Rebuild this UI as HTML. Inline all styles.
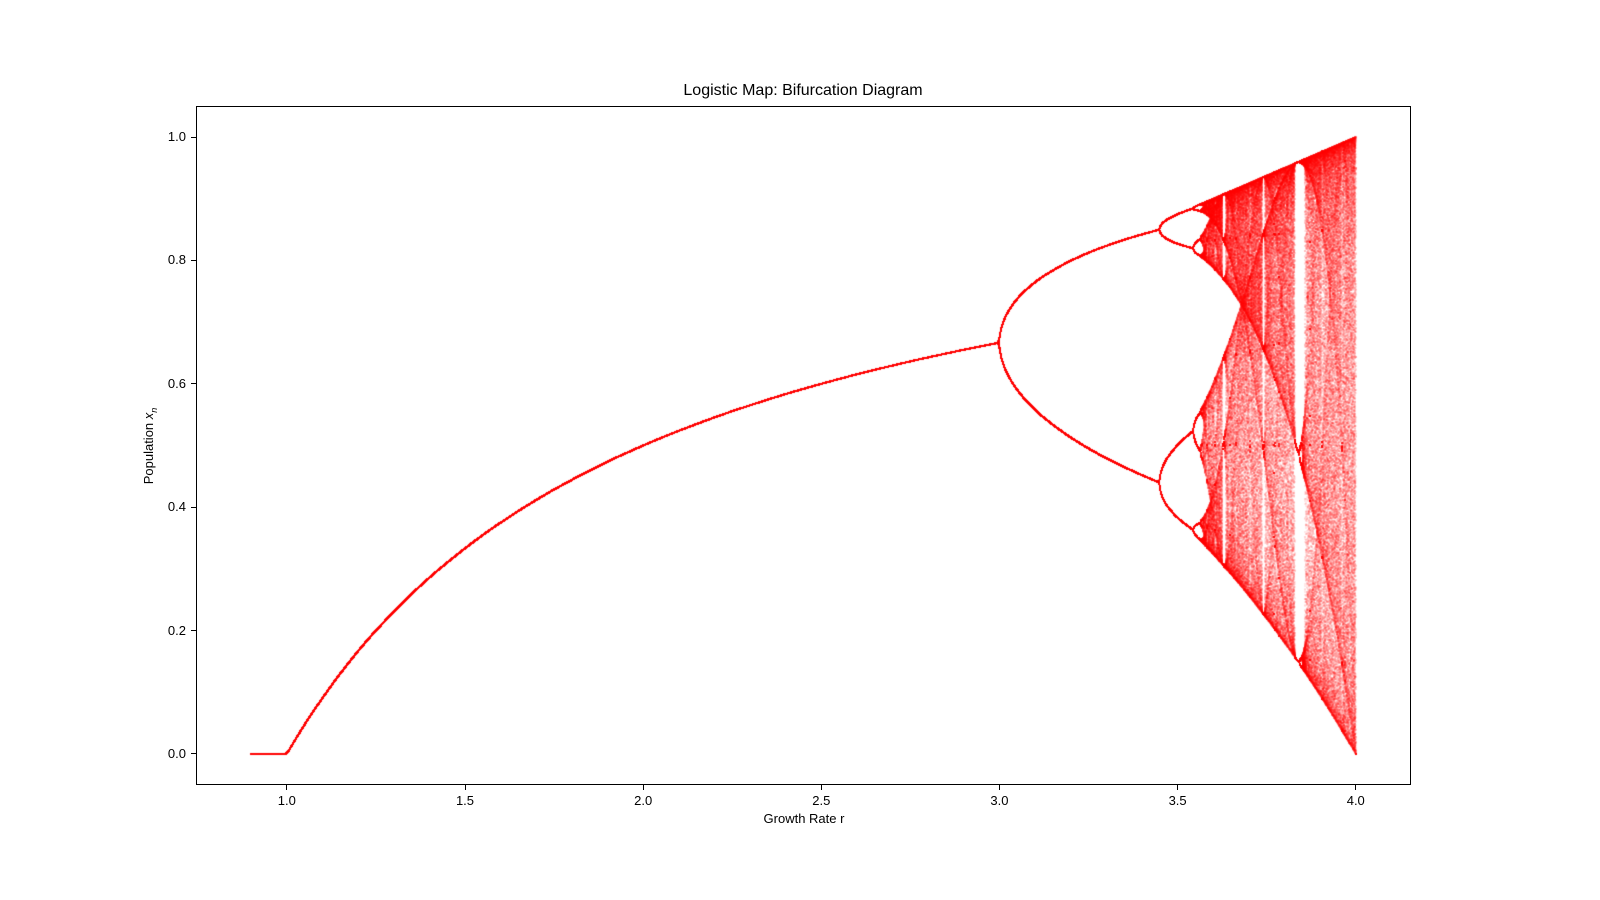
<!DOCTYPE html>
<html><head><meta charset="utf-8">
<style>
body{margin:0;background:#fff;width:1600px;height:900px;overflow:hidden;font-family:"Liberation Sans","DejaVu Sans",sans-serif;}
#wrap{position:relative;width:1600px;height:900px;}
#plot{position:absolute;left:196px;top:106px;width:1215px;height:679px;border:1px solid #000;box-sizing:border-box;}
canvas{position:absolute;left:0;top:0;}
.t{position:absolute;font-size:13px;color:#000;white-space:nowrap;}
.tick{position:absolute;background:#000;}
</style></head><body>
<div id="wrap">
<div class="t" style="left:0;width:1606px;text-align:center;top:82px;font-size:16px;">Logistic Map: Bifurcation Diagram</div>
<div id="plot"></div>
<canvas id="cv" width="1600" height="900"></canvas>
<div class="t" style="left:0;width:1608px;text-align:center;top:811px;">Growth Rate r</div>
<div class="t" style="left:150px;top:446px;transform:translate(-50%,-50%) rotate(-90deg);">Population <i>x</i><sub style="font-size:9px;font-style:italic">n</sub></div>
</div>
<script>
const rRange=[0.9,4.0];
const iterSettings=[600,300];
const x0Values=[0.5];
const xTicks=[1.0,1.5,2.0,2.5,3.0,3.5,4.0];
const yTicks=[0.0,0.2,0.4,0.6,0.8,1.0];
const xDomain=[0.745,4.155];
const yDomain=[-0.0503,1.0503];
const plotBox={l:196,t:106,w:1215,h:679};
function sx(v){return plotBox.l+(v-xDomain[0])/(xDomain[1]-xDomain[0])*plotBox.w;}
function sy(v){return plotBox.t+plotBox.h-(v-yDomain[0])/(yDomain[1]-yDomain[0])*plotBox.h;}
const wrap=document.getElementById('wrap');
xTicks.forEach(v=>{
  const d=document.createElement('div');d.className='tick';
  
  
  d.style.cssText=`left:${sx(v)-0.5}px;top:785px;width:1px;height:5px`;wrap.appendChild(d);
  const l=document.createElement('div');l.className='t';
  
  
  l.textContent=v.toFixed(1);l.style.cssText=`left:${sx(v)-20}px;width:40px;text-align:center;top:793px`;wrap.appendChild(l);
});
yTicks.forEach(v=>{
  const d=document.createElement('div');d.className='tick';
  
  
  d.style.cssText=`left:191px;top:${sy(v)-0.5}px;width:5px;height:1px`;wrap.appendChild(d);
  const l=document.createElement('div');l.className='t';
  
  
  l.textContent=v.toFixed(1);l.style.cssText=`left:140px;width:46px;text-align:right;top:${sy(v)-8}px`;wrap.appendChild(l);
});
const cv=document.getElementById('cv');const ctx=cv.getContext('2d');
const W=1600,H=900;const acc=new Float32Array(W*H);
const steps=4400;
for(let i=0;i<=steps;i++){
  const r=rRange[0]+(rRange[1]-rRange[0])*i/steps;
  let x=x0Values[0];
  for(let k=0;k<iterSettings[0];k++)x=r*x*(1-x);
  const px=sx(r);
  for(let k=0;k<iterSettings[1];k++){
    x=r*x*(1-x);
    const py=sy(x);
    const ix=Math.floor(px-0.5),iy=Math.floor(py-0.5);
    for(let a=0;a<2;a++)for(let b=0;b<2;b++){
      const X=ix+a,Y=iy+b;if(X>=0&&X<W&&Y>=0&&Y<H)acc[Y*W+X]+=1;
    }
  }
}
const img=ctx.createImageData(W,H);
for(let p=0;p<W*H;p++){
  const c=acc[p];if(!c)continue;
  const a=1-Math.pow(0.91,c);
  img.data[p*4]=255;img.data[p*4+1]=0;img.data[p*4+2]=0;img.data[p*4+3]=Math.round(a*255);
}
ctx.putImageData(img,0,0);
</script>
</body></html>
